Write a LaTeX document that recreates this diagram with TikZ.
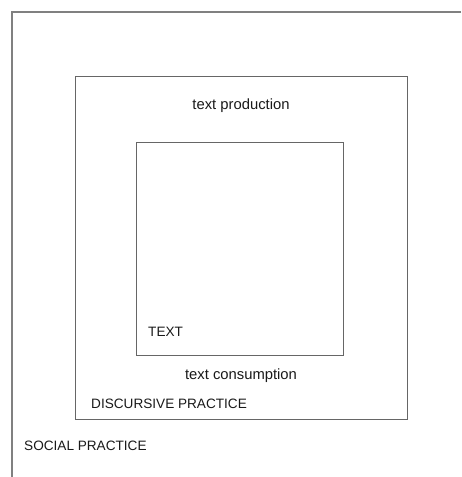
\documentclass[tikz,border=0pt]{standalone}
\usepackage{fontspec}
\setmainfont{Liberation Sans}
\begin{document}
\begin{tikzpicture}[x=1pt,y=-1pt,
  frame/.style={draw=black!50,line width=1.4pt},
  boxline/.style={draw=black!60,line width=1.2pt},
  lab/.style={inner sep=0pt,text=black!90},
  lowlab/.style={lab,font=\fontsize{14.8}{16}\selectfont},
  caplab/.style={lab,font=\fontsize{13.6}{16}\selectfont}]
\useasboundingbox (0,0) rectangle (461,477);
% outer (social practice) frame, open to the right and bottom
\coordinate (ofr) at (461,12);
\coordinate (otl) at (12,12);
\coordinate (obl) at (12,477);
\draw[frame] (ofr) -- (otl) -- (obl);
% discursive practice box
\node[boxline,minimum width=332pt,minimum height=343pt,inner sep=0pt,anchor=north west] (disc) at (75,76) {};
% text box
\node[boxline,minimum width=207pt,minimum height=213pt,inner sep=0pt,anchor=north west] (txt) at (136,142) {};
% labels
\node[lowlab,anchor=base] (prod) at (241,109) {text production};
\node[caplab,anchor=base west] (textlab) at (148,336) {TEXT};
\node[lowlab,anchor=base] (cons) at (241,379.5) {text consumption};
\node[caplab,anchor=base west] (disclab) at (91,408.5) {DISCURSIVE PRACTICE};
\node[caplab,anchor=base west] (soclab) at (24,450) {SOCIAL PRACTICE};
\end{tikzpicture}
\end{document}
